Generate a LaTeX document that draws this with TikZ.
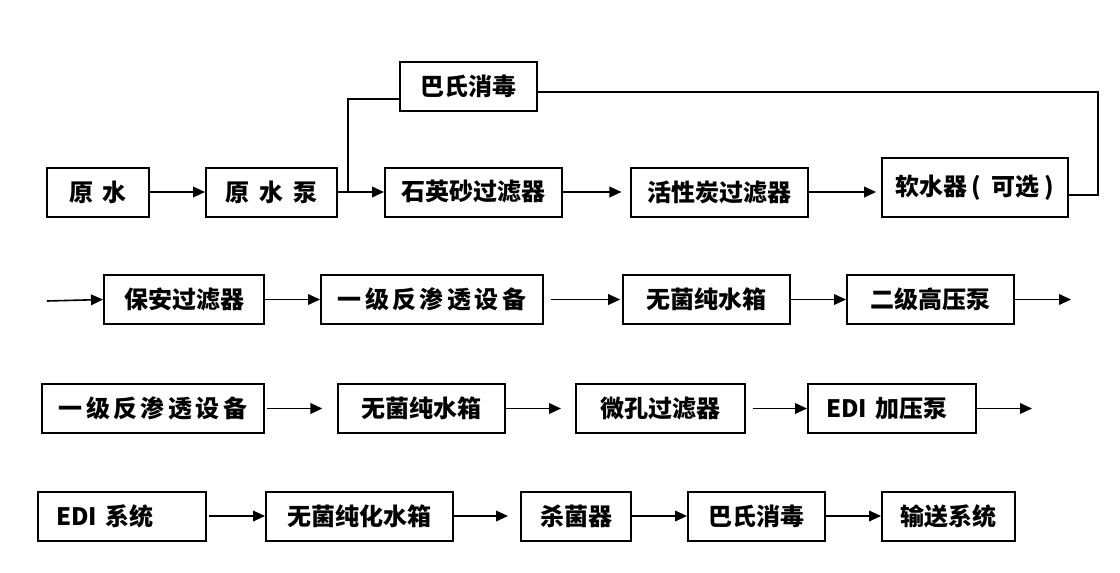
\documentclass[tikz,border=0pt]{standalone}
\usepackage{fontspec}
\newfontfamily\cjk{Noto Sans CJK SC}
\usetikzlibrary{arrows.meta}
\newcommand\wgap{\hspace{7.5pt}}
\newcommand\lsp{\hspace{2.6pt}}
\begin{document}
\begin{tikzpicture}[x=0.75pt, y=-0.75pt,
    procbox/.style={draw=black, line width=1.5pt, fill=white,
                    minimum height=36.75pt, inner sep=0pt,
                    font=\cjk\bfseries\fontsize{18}{21}\selectfont},
    boxw/.style={minimum width=#1*0.75pt},
    leftbox/.style={procbox, inner xsep=13.5pt, text width=99pt, align=left},
    pipe/.style={draw=black, line width=1.2pt},
    flow/.style={pipe, -{Triangle[length=9pt, width=8pt]}}
  ]
    \useasboundingbox (0,0) rectangle (1120,572);

    % first row: pre-treatment
    \node[procbox, boxw=102] (raw)     at (98,192)    {原\wgap 水};
    \node[procbox, boxw=131] (rawpump) at (271.5,192) {原\wgap 水\wgap 泵};
    \node[procbox, boxw=177] (quartz)  at (473.5,192) {石英砂过滤器};
    \node[procbox, boxw=177] (carbon)  at (719.5,192) {活性炭过滤器};
    \node[procbox, boxw=186, minimum height=44.25pt]
                             (soft)    at (975,187.5)
      {软水器\hspace{3pt}(\hspace{7.5pt}可选\hspace{3.75pt})};
    \node[procbox, boxw=137] (past)    at (468.5,86.5) {巴氏消毒};

    % second row
    \node[procbox, boxw=160] (guard) at (184,299.5)   {保安过滤器};
    \node[procbox, boxw=222] (ro)    at (432,299.5)   {一\lsp 级\lsp 反\lsp 渗\lsp 透\lsp 设\lsp 备};
    \node[procbox, boxw=167] (tank)  at (706,299.5)   {无菌纯水箱};
    \node[procbox, boxw=167] (hp)    at (930.5,299.5) {二级高压泵};

    % third row
    \node[procbox, boxw=222] (rob)   at (153,408.5)   {一\lsp 级\lsp 反\lsp 渗\lsp 透\lsp 设\lsp 备};
    \node[procbox, boxw=167] (tankb) at (421.5,408.5) {无菌纯水箱};
    \node[procbox, boxw=169] (micro) at (660.5,408.5) {微孔过滤器};
    \node[leftbox]           (edip)  at (892,408.5)   {EDI 加压泵};

    % fourth row
    \node[leftbox]           (edis)    at (122,516)   {EDI 系统};
    \node[procbox, boxw=187] (tankc)   at (359.5,516) {无菌纯化水箱};
    \node[procbox, boxw=110] (steril)  at (576,516)   {杀菌器};
    \node[procbox, boxw=137] (pastb)   at (756.5,516) {巴氏消毒};
    \node[procbox, boxw=133] (deliver) at (948.5,516) {输送系统};

    \coordinate (tee)   at (348,192);
    \coordinate (loop)  at (1098,195);
    \coordinate (feed)  at (47,301);
    \coordinate (hpout) at (1071,299.5);
    \coordinate (edout) at (1032,408.5);

    \foreach \a/\b/\s/\t in {raw/rawpump/0pt/0pt, rawpump/quartz/0pt/0pt,
        quartz/carbon/0pt/6.4pt, guard/ro/0pt/0pt, ro/tank/5pt/1pt,
        tank/hp/0pt/0pt, rob/tankb/1.5pt/11pt, tankb/micro/0pt/10.5pt,
        micro/edip/5pt/0pt, edis/tankc/1.5pt/0pt, tankc/steril/0pt/9pt,
        steril/pastb/0pt/0pt, pastb/deliver/0pt/0pt}
      \draw[flow, shorten <=\s, shorten >=\t] (\a.east) -- (\b.west);
    \draw[flow, shorten >=3.7pt] (carbon.east) -- (carbon.east -| soft.west);
    \draw[flow] (feed) -- (guard.west);
    \draw[flow] (hp.east) -- (hpout);
    \draw[flow] (edip.east) -- (edout);

    % bypass through the Pasteur unit
    \draw[pipe] (tee) |- ([yshift=-9.5pt]past.west);
    \draw[pipe] ([yshift=-4pt]past.east) -| (loop) -- (loop -| soft.east);
  \end{tikzpicture}
\end{document}
